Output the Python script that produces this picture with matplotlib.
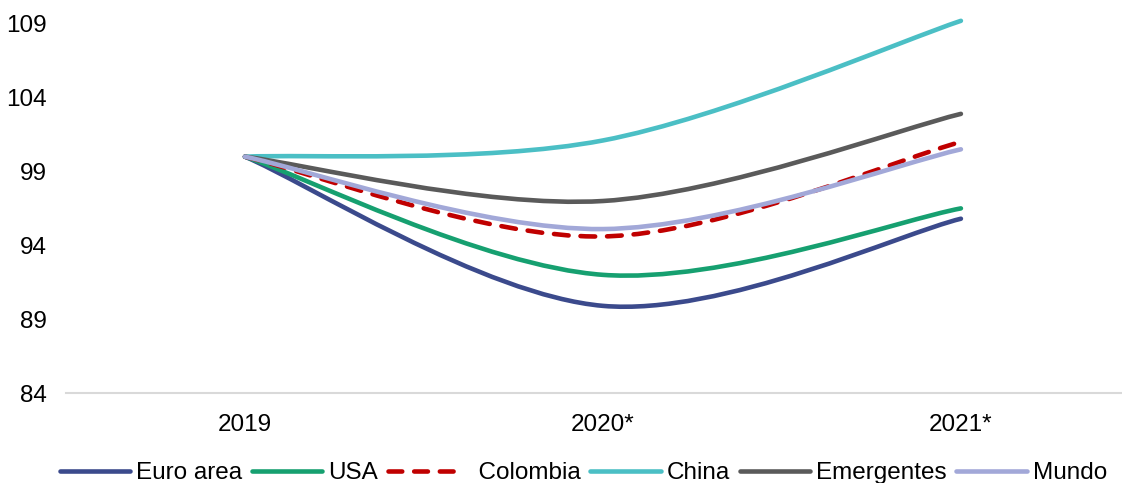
import matplotlib
matplotlib.use('Agg')
import matplotlib.pyplot as plt
from matplotlib.path import Path
from matplotlib.patches import PathPatch
from matplotlib.lines import Line2D

plt.rcParams['font.family'] = ['Liberation Sans', 'DejaVu Sans']

years = ['2019', '2020*', '2021*']
euro_area = [100, 89.9, 95.8]
usa = [100, 92.0, 96.5]
colombia = [100, 94.6, 101.0]
china = [100, 101.1, 109.2]
emergentes = [100, 97.0, 102.9]
mundo = [100, 95.1, 100.5]

series = [
    ('Euro area', euro_area, '#3B4A8C', 'solid'),
    ('USA', usa, '#16A070', 'solid'),
    ('  Colombia', colombia, '#C00000', 'dashed'),
    ('China', china, '#4BBFC5', 'solid'),
    ('Emergentes', emergentes, '#5A5A5A', 'solid'),
    ('Mundo', mundo, '#A2A8D8', 'solid'),
]

def smooth_path(xs, ys):
    # excel-like smoothed line: catmull-rom turned into cubic bezier
    n = len(xs)
    verts = [(xs[0], ys[0])]
    codes = [Path.MOVETO]
    for i in range(n - 1):
        i0 = max(i - 1, 0)
        i3 = min(i + 2, n - 1)
        c1 = (xs[i] + (xs[i + 1] - xs[i0]) / 6, ys[i] + (ys[i + 1] - ys[i0]) / 6)
        c2 = (xs[i + 1] - (xs[i3] - xs[i]) / 6, ys[i + 1] - (ys[i3] - ys[i]) / 6)
        verts += [c1, c2, (xs[i + 1], ys[i + 1])]
        codes += [Path.CURVE4] * 3
    return Path(verts, codes)

fig = plt.figure(figsize=(11.22, 4.83), dpi=100)
ax = fig.add_axes([66 / 1122, 1 - 393 / 483, 1 - 66 / 1122, (393 - 9) / 483])

lw = 3.3
x = list(range(len(years)))
handles = []
for name, vals, color, ls in series:
    patch = PathPatch(smooth_path(x, vals), fill=False, edgecolor=color, lw=lw,
                      capstyle='round', joinstyle='round')
    if ls == 'dashed':
        patch.set_linestyle((0, (3.2, 2.6)))
    ax.add_patch(patch)
    handles.append(Line2D([], [], color=color, lw=lw, solid_capstyle='round',
                          dash_capstyle='round',
                          linestyle=(0, (3.0, 2.6)) if ls == 'dashed' else '-'))

ax.set_xlim(-0.5, 2.45)
ax.set_ylim(84, 110)
ax.set_yticks([84, 89, 94, 99, 104, 109])
ax.set_xticks(x)
ax.set_xticklabels(years)
ax.tick_params(length=0, labelsize=17.5)
ax.tick_params(axis='x', pad=15)
ax.tick_params(axis='y', pad=14)
for s in ['top', 'right', 'left']:
    ax.spines[s].set_visible(False)
ax.spines['bottom'].set_color('#D9D9D9')
ax.spines['bottom'].set_linewidth(1.5)

fig.legend(handles, [s[0] for s in series], loc='lower center', ncol=6,
           bbox_to_anchor=(0.52, -0.048), frameon=False, fontsize=17.5,
           handlelength=2.9, handletextpad=0.25, columnspacing=0.4)

fig.savefig('out.png', dpi=100)
